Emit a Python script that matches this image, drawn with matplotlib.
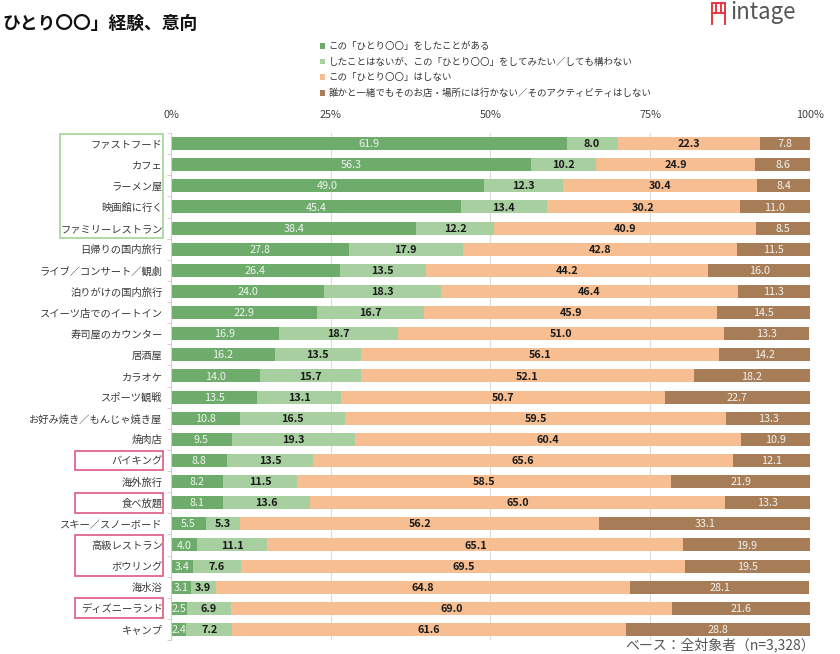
import matplotlib
matplotlib.use("Agg")
import matplotlib.pyplot as plt
import matplotlib.transforms as mtransforms
from matplotlib.patches import Rectangle
from matplotlib.lines import Line2D
import numpy as np

plt.rcParams['font.family'] = ['Noto Sans CJK JP', 'DejaVu Sans']

categories = [
    "ファストフード", "カフェ", "ラーメン屋", "映画館に行く", "ファミリーレストラン",
    "日帰りの国内旅行", "ライブ／コンサート／観劇", "泊りがけの国内旅行",
    "スイーツ店でのイートイン", "寿司屋のカウンター", "居酒屋", "カラオケ",
    "スポーツ観戦", "お好み焼き／もんじゃ焼き屋", "焼肉店", "バイキング",
    "海外旅行", "食べ放題", "スキー／スノーボード", "高級レストラン",
    "ボウリング", "海水浴", "ディズニーランド", "キャンプ",
]
experienced = [61.9, 56.3, 49.0, 45.4, 38.4, 27.8, 26.4, 24.0, 22.9, 16.9, 16.2, 14.0,
               13.5, 10.8, 9.5, 8.8, 8.2, 8.1, 5.5, 4.0, 3.4, 3.1, 2.5, 2.4]
want_to = [8.0, 10.2, 12.3, 13.4, 12.2, 17.9, 13.5, 18.3, 16.7, 18.7, 13.5, 15.7,
           13.1, 16.5, 19.3, 13.5, 11.5, 13.6, 5.3, 11.1, 7.6, 3.9, 6.9, 7.2]
not_alone = [22.3, 24.9, 30.4, 30.2, 40.9, 42.8, 44.2, 46.4, 45.9, 51.0, 56.1, 52.1,
             50.7, 59.5, 60.4, 65.6, 58.5, 65.0, 56.2, 65.1, 69.5, 64.8, 69.0, 61.6]
never = [7.8, 8.6, 8.4, 11.0, 8.5, 11.5, 16.0, 11.3, 14.5, 13.3, 14.2, 18.2,
         22.7, 13.3, 10.9, 12.1, 21.9, 13.3, 33.1, 19.9, 19.5, 28.1, 21.6, 28.8]
series_names = [
    "この「ひとり〇〇」をしたことがある",
    "したことはないが、この「ひとり〇〇」をしてみたい／しても構わない",
    "この「ひとり〇〇」はしない",
    "誰かと一緒でもそのお店・場所には行かない／そのアクティビティはしない",
]
xticks = [0, 25, 50, 75, 100]
xtick_labels = ["0%", "25%", "50%", "75%", "100%"]
title = "ひとり〇〇」経験、意向"
footer = "ベース：全対象者（n=3,328）"

colors = ["#6dac6b", "#a7cf9f", "#f7be91", "#a67d56"]
label_colors = ["#f2f2f2", "#1a1a1a", "#1a1a1a", "#f2f2f2"]
label_weights = ["normal", "bold", "bold", "normal"]

fig = plt.figure(figsize=(8.4, 6.54), dpi=100)
ax = fig.add_axes([171/840, 14/654, 639/840, 507/654])

series = [experienced, want_to, not_alone, never]
y = np.arange(len(categories))
left = np.zeros(len(categories))
handles = []
for i, vals in enumerate(series):
    vals = np.array(vals)
    bars = ax.barh(y, vals, left=left, height=0.62, color=colors[i], label=series_names[i], zorder=2)
    handles.append(bars)
    for yi, (l, v) in enumerate(zip(left, vals)):
        ax.text(l + v/2, yi + 0.03, f"{v:.1f}", ha='center', va='center', fontsize=7.8,
                color=label_colors[i], fontweight=label_weights[i], zorder=3)
    left = left + vals

ax.set_xlim(0, 100)
ax.set_ylim(len(categories) - 0.5, -0.5)
ax.xaxis.tick_top()
ax.set_xticks(xticks)
ax.set_xticklabels(xtick_labels, fontsize=7.8, color="#404040")
ax.tick_params(axis='x', length=0, pad=9)
ax.set_yticks(y)
ax.set_yticklabels(categories, fontsize=7.4, color="#3a3a3a")
ax.tick_params(axis='y', length=0, pad=6)
ax.set_yticks(np.arange(-0.5, len(categories), 1), minor=True)
ax.tick_params(axis='y', which='minor', length=3, color="#e6c9d6", width=0.8)
ax.grid(axis='x', color="#dcdcdc", lw=0.8, zorder=0)
ax.set_axisbelow(True)
for s in ['top', 'right', 'bottom']:
    ax.spines[s].set_visible(False)
ax.spines['left'].set_color("#d0d0d0")
ax.spines['left'].set_linewidth(0.8)

# legend
fig.legend(handles=handles, labels=series_names, loc='upper left',
           bbox_to_anchor=(320/840, 1 - 42/654), frameon=False, fontsize=6.8,
           handlelength=0.5, handleheight=0.5, handletextpad=0.4, labelspacing=0.68,
           borderaxespad=0, borderpad=0, labelcolor="#333333")

# highlight boxes around row labels
bt = mtransforms.blended_transform_factory(fig.transFigure, ax.transData)
def box(r0, r1, x0, color):
    rect = Rectangle((x0/840, r0 - 0.47), (163 - x0)/840, (r1 - r0) + 0.94,
                     transform=bt, fill=False, edgecolor=color, lw=1.3, clip_on=False)
    fig.patches.append(rect)
box(0, 4, 60, "#a8d8a0")
for r0, r1 in [(15, 15), (17, 17), (19, 20), (22, 22)]:
    box(r0, r1, 75, "#e2668a")

# title
fig.text(2/840, 1 - 24/654, title, fontsize=12.8, fontweight='bold', va='center', ha='left', color="#111111")
# logo
fig.text(730/840, 1 - 12/654, "intage", fontsize=16, va='center', ha='left', color="#555555")
red = "#e8383d"
for xs, ys in [([712, 712], [3, 24]), ([725, 725], [3, 24]), ([712, 725], [13, 13]),
               ([716, 716], [3, 13]), ([721, 721], [3, 13]), ([712, 725], [3, 3])]:
    fig.add_artist(Line2D([x/840 for x in xs], [1 - v/654 for v in ys], color=red, lw=1.4,
                          transform=fig.transFigure))
# footer
fig.text(625/840, 1 - 638/654, footer, fontsize=10, va='top', ha='left', color="#555555")

fig.savefig("out.png", dpi=100)
